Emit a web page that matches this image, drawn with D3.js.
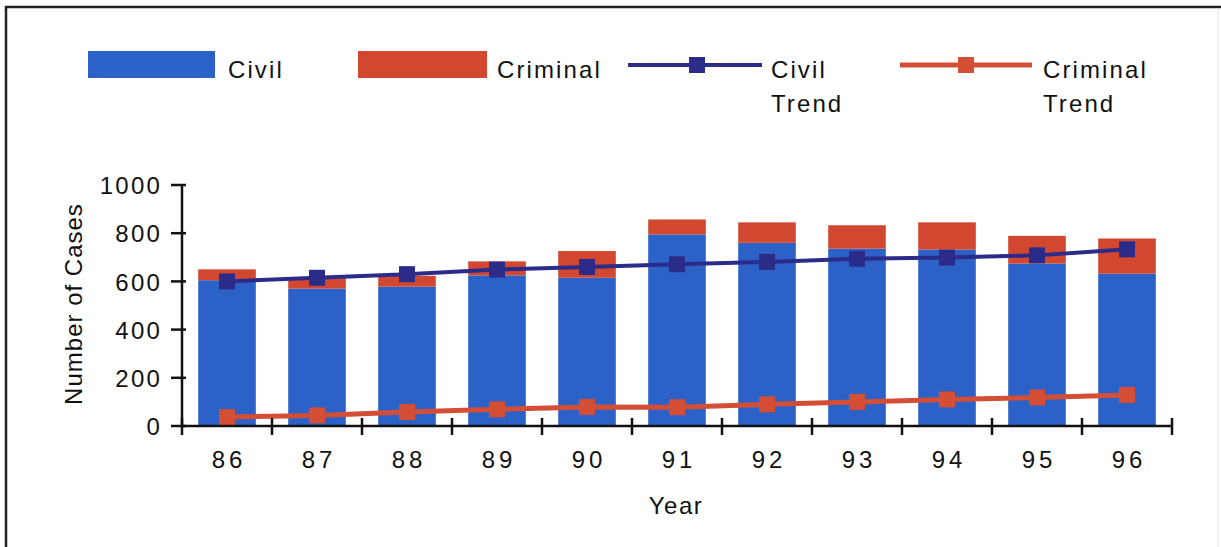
<!DOCTYPE html>
<html><head><meta charset="utf-8">
<script src="https://cdn.jsdelivr.net/npm/d3@7/dist/d3.min.js"></script>
<style>
html,body{margin:0;padding:0;background:#fff;}
svg{display:block;}
text{font-family:"Liberation Sans", Arial, Helvetica, sans-serif; fill:#111;}
</style></head>
<body>
<svg id="chart" width="1221" height="547"></svg>
<script>
const years = ["86","87","88","89","90","91","92","93","94","95","96"];
const civil = [605, 570, 578, 625, 615, 795, 760, 736, 732, 674, 632];
const criminal = [45, 45, 45, 58, 111, 62, 85, 97, 113, 115, 146];
const civilTrend = [600, 615, 630, 649, 660, 671, 681, 694, 699, 708, 733];
const criminalTrend = [37, 44, 58, 69, 79, 78, 90, 100, 110, 118, 129];
const yTicks = [0, 200, 400, 600, 800, 1000];

const svg = d3.select("#chart");
const COL_CIVIL = "#2c61c8", COL_CRIM = "#d2472f", COL_CTREND = "#2b2b8a", COL_RTREND = "#d44e36";
const FS = 24;

// frame
svg.append("line").attr("x1",6).attr("x2",6).attr("y1",6).attr("y2",547).attr("stroke","#222").attr("stroke-width",2.5);
svg.append("line").attr("x1",5).attr("x2",1221).attr("y1",7).attr("y2",7).attr("stroke","#222").attr("stroke-width",2.5);
svg.append("line").attr("x1",1218).attr("x2",1218).attr("y1",8).attr("y2",547).attr("stroke","#e4e4e4").attr("stroke-width",1);

const x0 = 182, x1 = 1172;
const x = d3.scaleBand().domain(years).range([x0, x1]).padding(0);
const y = d3.scaleLinear().domain([0, 1000]).range([426, 185]);
const bw = x.bandwidth() * 0.64;
const cx = d => x(d) + x.bandwidth() / 2;

// bars
const g = svg.append("g");
g.selectAll("rect.civil").data(years).enter().append("rect")
  .attr("x", d => cx(d) - bw/2).attr("width", bw)
  .attr("y", (d,i) => y(civil[i])).attr("height", (d,i) => y(0) - y(civil[i]))
  .attr("fill", COL_CIVIL);
g.selectAll("rect.crim").data(years).enter().append("rect")
  .attr("x", d => cx(d) - bw/2).attr("width", bw)
  .attr("y", (d,i) => y(civil[i] + criminal[i])).attr("height", (d,i) => y(civil[i]) - y(civil[i] + criminal[i]))
  .attr("fill", COL_CRIM);

// trend lines
function trend(vals, color, w, ms) {
  const line = d3.line().x((v,i) => cx(years[i])).y(v => y(v));
  svg.append("path").datum(vals).attr("d", line).attr("fill","none").attr("stroke", color).attr("stroke-width", w);
  svg.selectAll(null).data(vals).enter().append("rect")
    .attr("x", (v,i) => cx(years[i]) - ms/2).attr("y", v => y(v) - ms/2)
    .attr("width", ms).attr("height", ms).attr("fill", color);
}
trend(civilTrend, COL_CTREND, 4, 16);
trend(criminalTrend, COL_RTREND, 5, 16);

// axes
const axisCol = "#111";
svg.append("line").attr("x1", x0).attr("x2", x1).attr("y1", y(0)).attr("y2", y(0)).attr("stroke", axisCol).attr("stroke-width", 2.5);
svg.append("line").attr("x1", x0).attr("x2", x0).attr("y1", y(1000)).attr("y2", y(0)+1).attr("stroke", axisCol).attr("stroke-width", 2.5);

const bounds = years.map(d => x(d)).concat([x1]);
svg.selectAll(null).data(bounds).enter().append("line")
  .attr("x1", d => d).attr("x2", d => d).attr("y1", y(0) - 8).attr("y2", y(0) + 9)
  .attr("stroke", axisCol).attr("stroke-width", 2.5);

svg.selectAll(null).data(yTicks).enter().append("line")
  .attr("x1", x0 - 11).attr("x2", x0 + 4).attr("y1", d => y(d)).attr("y2", d => y(d))
  .attr("stroke", axisCol).attr("stroke-width", 2.5);

const yAxis = d3.axisLeft(y).tickValues(yTicks).tickSize(0).tickPadding(20).tickFormat(d3.format("d"));
const ya = svg.append("g").attr("transform", `translate(${x0},0)`).call(yAxis);
ya.select(".domain").remove();
ya.selectAll("text").attr("font-size", FS).attr("letter-spacing", 2.2)
  .attr("font-family", '"Liberation Sans", Arial, sans-serif').attr("fill", "#111").attr("dy", "0.36em");

const xAxis = d3.axisBottom(x).tickSize(0).tickPadding(25);
const xa = svg.append("g").attr("transform", `translate(0,${y(0)})`).call(xAxis);
xa.select(".domain").remove();
xa.selectAll("text").attr("font-size", FS).attr("letter-spacing", 4)
  .attr("font-family", '"Liberation Sans", Arial, sans-serif').attr("fill", "#111").attr("dx", 2);

// axis titles
svg.append("text").attr("x", 676).attr("y", 514).attr("text-anchor", "middle")
  .attr("font-size", FS).attr("letter-spacing", 1.5).text("Year");
svg.append("text").attr("transform", "translate(82,304) rotate(-90)").attr("text-anchor", "middle")
  .attr("font-size", FS).attr("letter-spacing", 1).text("Number of Cases");

// legend
const lg = svg.append("g");
const LS = 2.1;
lg.append("rect").attr("x", 88).attr("y", 51).attr("width", 127).attr("height", 27).attr("fill", COL_CIVIL);
lg.append("text").attr("x", 228).attr("y", 78).attr("font-size", FS).attr("letter-spacing", LS).text("Civil");
lg.append("rect").attr("x", 358).attr("y", 51).attr("width", 129).attr("height", 27).attr("fill", COL_CRIM);
lg.append("text").attr("x", 497).attr("y", 78).attr("font-size", FS).attr("letter-spacing", LS).text("Criminal");

lg.append("line").attr("x1", 628).attr("x2", 762).attr("y1", 65).attr("y2", 65).attr("stroke", COL_CTREND).attr("stroke-width", 4);
lg.append("rect").attr("x", 689).attr("y", 57).attr("width", 16).attr("height", 16).attr("fill", COL_CTREND);
lg.append("text").attr("x", 771).attr("y", 78).attr("font-size", FS).attr("letter-spacing", LS).text("Civil");
lg.append("text").attr("x", 771).attr("y", 112).attr("font-size", FS).attr("letter-spacing", LS).text("Trend");

lg.append("line").attr("x1", 900).attr("x2", 1032).attr("y1", 65).attr("y2", 65).attr("stroke", COL_RTREND).attr("stroke-width", 5);
lg.append("rect").attr("x", 958).attr("y", 57).attr("width", 16).attr("height", 16).attr("fill", COL_RTREND);
lg.append("text").attr("x", 1043).attr("y", 78).attr("font-size", FS).attr("letter-spacing", LS).text("Criminal");
lg.append("text").attr("x", 1043).attr("y", 112).attr("font-size", FS).attr("letter-spacing", LS).text("Trend");
</script>
</body></html>
